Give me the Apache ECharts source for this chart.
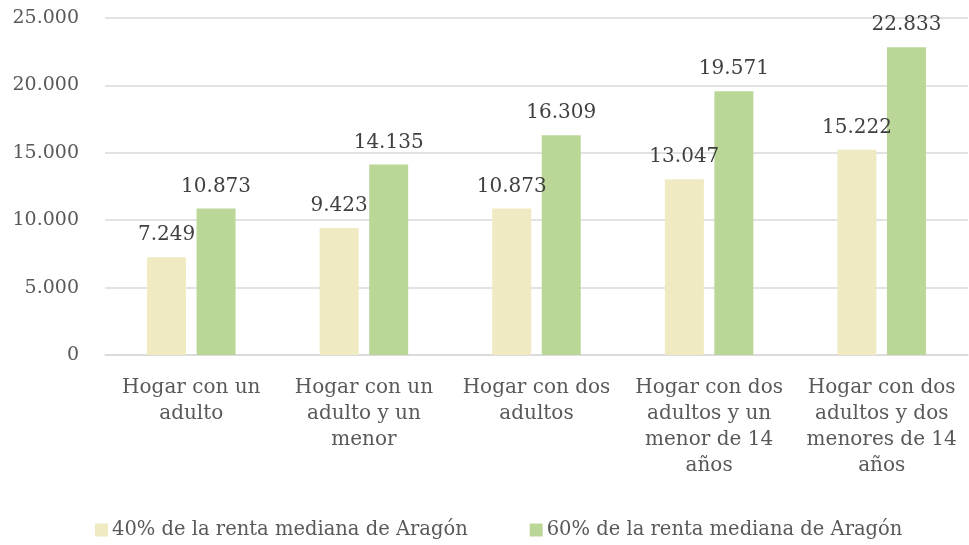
<!DOCTYPE html>
<html>
<head>
    <meta charset="utf-8">
    <title>ECharts</title>
    <script src="https://cdn.jsdelivr.net/npm/echarts@6/dist/echarts.min.js"></script>
    <style>
        html, body { margin: 0; padding: 0; background: #fff; }
    </style>
</head>
<body>
    <div id="main" style="width: 969px;height:545px;"></div>
    <script type="text/javascript">
        // datos
        var categorias = [
            'Hogar con un\nadulto',
            'Hogar con un\nadulto y un\nmenor',
            'Hogar con dos\nadultos',
            'Hogar con dos\nadultos y un\nmenor de 14\naños',
            'Hogar con dos\nadultos y dos\nmenores de 14\naños'
        ];
        var serie40 = [7249, 9423, 10873, 13047, 15222];
        var serie60 = [10873, 14135, 16309, 19571, 22833];
        var nombres = ['40% de la renta mediana de Aragón', '60% de la renta mediana de Aragón'];
        var ticksY = [0, 5000, 10000, 15000, 20000, 25000];

        var fuente = 'DejaVu Serif';
        var color1 = '#efeac1';
        var color2 = '#bbd798';

        // formato con punto de miles
        function miles(v) {
            return String(v).replace(/\B(?=(\d{3})+(?!\d))/g, '.');
        }

        var myChart = echarts.init(document.getElementById('main'));

        var etiqueta = {
            show: true,
            position: 'top',
            distance: 12,
            color: '#404040',
            fontFamily: fuente,
            fontSize: 20,
            formatter: function (p) { return miles(p.value); }
        };

        var option = {
            animation: false,
            textStyle: { fontFamily: fuente },
            legend: {
                bottom: 0,
                left: 90,
                itemWidth: 13,
                itemHeight: 13,
                itemGap: 62,
                icon: 'rect',
                textStyle: { color: '#595959', fontSize: 19.5, fontFamily: fuente, padding: [0, 0, 0, -1] },
                data: nombres
            },
            grid: { left: 105, right: 1, top: 18, bottom: 190 },
            xAxis: {
                type: 'category',
                data: categorias,
                axisLine: { lineStyle: { color: '#d9d9d9', width: 1.5 } },
                axisTick: { show: false },
                axisLabel: {
                    color: '#595959',
                    fontSize: 20,
                    lineHeight: 26,
                    margin: 20,
                    interval: 0,
                    fontFamily: fuente
                }
            },
            yAxis: {
                type: 'value',
                min: ticksY[0],
                max: ticksY[ticksY.length - 1],
                interval: 5000,
                axisLine: { show: false },
                axisTick: { show: false },
                splitLine: { lineStyle: { color: '#d9d9d9', width: 1.5 } },
                axisLabel: {
                    color: '#595959',
                    fontSize: 19,
                    margin: 26,
                    fontFamily: fuente,
                    formatter: function (v) { return miles(v); }
                }
            },
            series: [{
                name: nombres[0],
                type: 'bar',
                data: serie40,
                barWidth: 39,
                barGap: '27%',
                itemStyle: { color: color1 },
                label: etiqueta
            }, {
                name: nombres[1],
                type: 'bar',
                data: serie60,
                barWidth: 39,
                itemStyle: { color: color2 },
                label: etiqueta
            }]
        };

        myChart.setOption(option);
    </script>
</body>
</html>
